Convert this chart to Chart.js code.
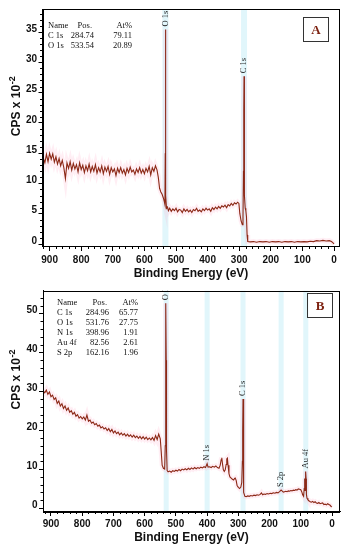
<!DOCTYPE html>
<html><head><meta charset="utf-8">
<script src="https://cdn.jsdelivr.net/npm/chart.js@4.4.1/dist/chart.umd.min.js"></script>
<style>
html,body{margin:0;padding:0;background:#fff;}
#wrap{position:relative;width:347px;height:550px;overflow:hidden;}
canvas{position:absolute;left:0;}
</style></head><body>
<div id="wrap">
<canvas id="cA" width="347" height="283" style="top:0px"></canvas>
<canvas id="cB" width="347" height="267" style="top:283px"></canvas>
</div>
<script>
// ---------- Panel A data (binding energy in eV, counts in CPS x 10^-2) ----------
const energyA = [
  920,915,910,905,900,895,890,885,880,875,
  870,865,860,855,850,845,840,835,830,825,
  820,815,810,805,800,795,790,785,780,775,
  770,765,760,755,750,745,740,735,730,725,
  720,715,710,705,700,695,690,685,680,675,
  670,665,660,655,650,645,640,635,630,625,
  620,615,610,605,600,595,590,585,580,575,
  570,565,560,556,552,548,544,540,537,535,
  534,533.5,533,532,530,527,524,520,515,510,
  505,500,495,490,485,480,475,470,465,460,
  455,450,445,440,435,430,425,420,415,410,
  405,400,395,390,385,380,375,370,365,360,
  355,350,345,340,335,330,325,320,315,310,
  305,301,298,294,290,288,286.5,285.5,284.7,284,
  283,281,279,277,275,273,265,255,245,235,
  225,215,205,195,185,175,165,155,145,135,
  125,115,105,95,85,75,65,55,45,35,
  25,15,8,3,0
];
const countsA = [
  14.2,13.4,14.8,13.6,15.0,14.0,14.9,13.5,14.4,13.2,
  14.1,12.9,13.8,12.6,10.8,13.4,12.5,13.6,12.2,13.3,
  12.4,13.1,11.9,13.4,12.3,13.0,11.8,12.9,12.1,13.2,
  11.9,12.8,12.0,13.1,11.7,12.6,11.9,12.9,11.6,12.7,
  12.0,12.8,11.5,12.6,11.9,12.4,11.3,12.5,11.8,12.6,
  11.7,12.3,11.4,12.5,11.8,12.7,11.9,12.2,11.5,12.4,
  11.8,12.6,11.7,12.3,11.6,12.5,11.9,12.8,11.4,12.6,
  12.0,12.9,12.2,11.0,9.2,8.6,8.2,7.6,7.0,6.5,
  15.0,35.4,20.0,8.0,5.9,6.1,5.5,5.9,5.4,5.8,
  5.5,5.9,5.3,5.7,5.6,5.2,5.8,5.4,5.7,5.3,
  5.6,5.2,5.7,5.5,5.9,5.4,5.6,5.3,5.8,5.5,
  5.9,5.6,5.8,5.4,6.0,5.7,6.1,5.8,6.2,5.9,
  6.3,6.1,6.4,6.0,6.5,6.3,6.7,6.4,6.8,6.6,
  6.9,6.7,5.0,3.8,3.2,4.5,12.0,22.0,27.7,18.0,
  8.0,5.9,5.5,4.5,1.5,0.4,0.35,0.4,0.3,0.4,
  0.35,0.4,0.3,0.4,0.35,0.4,0.3,0.4,0.35,0.4,
  0.3,0.4,0.35,0.4,0.35,0.45,0.4,0.55,0.5,0.6,
  0.5,0.55,0.4,0.2,0.0
];
// ---------- Panel B data ----------
const energyB = [
  925,920,915,910,905,900,895,890,885,880,
  875,870,865,860,855,850,845,840,835,830,
  825,820,815,810,805,800,795,790,785,780,
  775,770,765,760,755,750,745,740,735,730,
  725,720,715,710,705,700,695,690,685,680,
  675,670,665,660,655,650,645,640,635,630,
  625,620,615,610,605,600,595,590,585,580,
  575,570,565,560,555,550,547,544,540,536,
  534,533,532,531,530,528,525,520,515,510,
  505,500,495,490,485,480,475,470,465,460,
  455,450,445,440,435,430,425,420,415,410,
  405,400,397,392,387,382,377,372,367,362,
  358,355,353,351,348,345,342,339,337,335,
  333,330,327,323,319,315,312,310,307,304,
  300,296,292,289,287,286,285,284,283,282,
  279,275,270,265,260,255,250,245,240,235,
  230,226,222,218,213,208,203,198,193,188,
  183,178,173,168,163,160,156,152,148,144,
  140,136,132,128,124,120,116,112,108,104,
  100,97,94,91,89,88,87,86,85,84,
  83,82,80,77,74,70,66,62,58,54,
  50,46,42,38,34,30,26,22,18,14,
  10,6,3,0
];
const countsB = [
  30.1,29.6,30.3,29.2,29.8,28.6,29.0,27.9,28.3,26.9,
  27.5,26.2,26.8,25.6,26.2,25.1,25.7,24.6,25.0,24.1,
  24.6,23.6,24.0,23.1,23.5,22.9,23.4,22.6,23.9,22.3,
  22.6,21.8,22.1,21.4,21.7,21.0,21.3,20.6,20.9,20.3,
  20.6,19.9,20.4,19.6,20.2,19.3,19.8,19.1,19.5,18.8,
  19.3,18.7,19.1,18.5,19.0,18.4,18.8,18.2,18.7,18.1,
  18.5,17.9,18.4,17.8,18.3,17.7,18.2,17.6,18.0,17.5,
  18.1,17.4,18.6,17.6,19.0,17.8,14.5,11.0,10.2,10.0,
  16.0,35.0,52.6,38.0,15.0,9.6,9.3,9.5,9.2,9.6,
  9.4,9.7,9.5,9.9,9.6,10.0,9.8,10.1,9.8,10.2,
  9.9,10.3,10.0,10.4,10.1,10.4,10.2,10.5,10.3,10.6,
  10.4,11.4,10.5,10.6,10.4,10.7,10.5,10.8,10.4,10.2,
  11.0,12.4,12.9,11.5,9.8,9.4,9.8,11.2,12.6,12.8,
  11.0,8.8,8.0,7.7,7.4,7.2,7.6,7.7,7.1,5.8,
  5.3,5.0,5.4,6.6,12.0,20.0,28.0,20.0,9.0,4.0,
  3.0,2.9,3.1,3.0,3.2,3.1,3.3,3.2,3.4,3.3,
  3.5,3.9,3.4,3.6,3.5,3.7,3.6,3.8,3.7,3.9,
  3.8,4.0,3.9,4.2,4.6,4.4,4.1,4.2,4.3,4.2,
  4.4,4.3,4.5,4.4,4.6,4.5,4.7,4.6,4.9,4.8,
  4.7,4.2,3.4,3.0,5.0,7.6,6.5,4.5,6.5,9.4,
  7.5,3.5,2.5,2.1,1.9,1.6,1.5,1.7,1.4,1.6,
  1.3,1.2,1.4,1.1,1.2,1.3,0.9,1.0,0.8,1.1,
  0.9,0.7,0.4,0.3
];
// ---------- ticks ----------
const xTickLabels = [900,800,700,600,500,400,300,200,100,0];
const yTicksA = [0,5,10,15,20,25,30,35];
const yTicksB = [0,10,20,30,40,50];
// ---------- peak annotations ----------
const peakNamesA = ['O 1s','C 1s'];
const peakEnergiesA = [533.5, 284.7];
const peakNamesB = ['O 1s','N 1s','C 1s','S 2p','Au 4f'];
const peakEnergiesB = [532, 400, 285, 163, 84];
// ---------- quantification tables ----------
const tableHeader = ['Name','Pos.','At%'];
const tableNamesA = ['C 1s','O 1s'];
const tablePosA = ['284.74','533.54'];
const tableAtA = ['79.11','20.89'];
const tableNamesB = ['C 1s','O 1s','N 1s','Au 4f','S 2p'];
const tablePosB = ['284.96','531.76','398.96','82.56','162.16'];
const tableAtB = ['65.77','27.75','1.91','2.61','1.96'];
const yTitleMain = 'CPS x 10';
const yTitleSup = '-2';

const SANS = '"Liberation Sans", Arial, sans-serif';
const SERIF = '"Liberation Serif", "Times New Roman", serif';

const decoPlugin = {
  id: 'deco',
  afterDatasetsDraw(chart, args, o) {
    const {ctx, chartArea: a} = chart;
    const x = chart.scales.x, y = chart.scales.y;
    ctx.save();
    // peak labels (clipped to plot)
    ctx.save();
    ctx.beginPath(); ctx.rect(a.left, a.top, a.right - a.left, a.bottom - a.top); ctx.clip();
    ctx.font = '8.5px ' + SERIF;
    ctx.fillStyle = '#2a2a2a';
    o.peakNames.forEach((name, i) => {
      const e = o.peakEnergies[i];
      let m = -1;
      o.energy.forEach((v, j) => { if (Math.abs(v - e) <= 3 && o.counts[j] > m) m = o.counts[j]; });
      const px = x.getPixelForValue(e), py = y.getPixelForValue(m) - 3;
      ctx.save(); ctx.translate(px, py); ctx.rotate(-Math.PI / 2);
      ctx.textAlign = 'left'; ctx.textBaseline = 'middle';
      ctx.fillText(name, 0, 0);
      ctx.restore();
    });
    ctx.restore();
    // frame
    ctx.strokeStyle = '#000'; ctx.lineWidth = 1;
    ctx.strokeRect(Math.round(a.left) + 0.5, Math.round(a.top) + 0.5, Math.round(a.right - a.left) - 1, Math.round(a.bottom - a.top));
    // minor ticks
    ctx.beginPath();
    for (let v = 0; v <= o.xMax; v += 20) {
      if (v % 100 === 0) continue;
      const px = Math.round(x.getPixelForValue(v)) + 0.5;
      ctx.moveTo(px, a.bottom); ctx.lineTo(px, a.bottom + 3);
    }
    for (let v = 0; v <= o.yMax; v += o.yMinor) {
      if (v % o.yMajor === 0) continue;
      const py = Math.round(y.getPixelForValue(v)) + 0.5;
      ctx.moveTo(a.left, py); ctx.lineTo(a.left - 2.5, py);
    }
    ctx.stroke();
    // y-axis title with superscript
    ctx.save();
    ctx.translate(17, (a.top + a.bottom) / 2 - 21);
    ctx.rotate(-Math.PI / 2);
    ctx.fillStyle = '#111';
    ctx.textBaseline = 'middle'; ctx.textAlign = 'left';
    ctx.font = 'bold 12px ' + SANS;
    const w1 = ctx.measureText(yTitleMain).width;
    ctx.font = 'bold 9px ' + SANS;
    const w2 = ctx.measureText(yTitleSup).width;
    const sx = -(w1 + w2) / 2;
    ctx.font = 'bold 12px ' + SANS;
    ctx.fillText(yTitleMain, sx, 0);
    ctx.font = 'bold 9px ' + SANS;
    ctx.fillText(yTitleSup, sx + w1 + 0.5, -4.5);
    ctx.restore();
    // table
    ctx.fillStyle = '#111';
    ctx.font = '8.5px ' + SERIF;
    ctx.textBaseline = 'middle';
    const t = o.table;
    ctx.textAlign = 'left'; ctx.fillText(tableHeader[0], t.x0, t.y0);
    ctx.textAlign = 'right'; ctx.fillText(tableHeader[1], t.x1 - 2, t.y0);
    ctx.fillText(tableHeader[2], t.x2, t.y0);
    t.names.forEach((n, i) => {
      const yy = t.y0 + t.dy * (i + 1);
      ctx.textAlign = 'left'; ctx.fillText(n, t.x0, yy);
      ctx.textAlign = 'right'; ctx.fillText(t.pos[i], t.x1, yy);
      ctx.fillText(t.at[i], t.x2, yy);
    });
    // letter box
    const b = o.box;
    ctx.strokeStyle = '#333';
    ctx.strokeRect(b.x + 0.5, b.y + 0.5, b.w, b.h);
    ctx.fillStyle = '#7e2312';
    ctx.font = 'bold 13px ' + SERIF;
    ctx.textAlign = 'center'; ctx.textBaseline = 'middle';
    ctx.fillText(b.letter, b.x + b.w / 2 + 0.5, b.y + b.h / 2 + 1.5);
    ctx.restore();
  }
};

function makeChart(id, cfg) {
  const pts = cfg.energy.map((e, i) => ({x: e, y: cfg.counts[i]}));
  const bands = cfg.bands.map(e => ({
    data: [{x: e, y: cfg.yMin}, {x: e, y: cfg.yMax}],
    showLine: true, pointRadius: 0, borderColor: 'rgba(212,242,250,0.7)', borderWidth: cfg.bandWidth
  }));
  return new Chart(document.getElementById(id), {
    type: 'scatter',
    data: {
      datasets: [
        {data: pts, showLine: true, pointRadius: 0, borderColor: '#8c2816', borderWidth: 1.1, tension: 0},
        {data: pts, showLine: true, pointRadius: 0, borderColor: 'rgba(255,170,200,0.2)', borderWidth: 5, tension: 0},
        ...bands
      ]
    },
    options: {
      responsive: false, animation: false, events: [],
      layout: {padding: cfg.padding},
      plugins: {
        legend: {display: false}, tooltip: {enabled: false},
        deco: {
          peakNames: cfg.peakNames, peakEnergies: cfg.peakEnergies, energy: cfg.energy, counts: cfg.counts,
          xMax: 920, yMax: cfg.yMax, yMinor: cfg.yMinor, yMajor: cfg.yMajor,
          table: cfg.table, box: cfg.box
        }
      },
      scales: {
        x: {
          type: 'linear', reverse: true, min: cfg.xMin, max: cfg.xMax,
          afterBuildTicks: s => { s.ticks = xTickLabels.map(v => ({value: v})); },
          afterFit: s => { s.height = cfg.xHeight; },
          grid: {display: true, drawOnChartArea: false, drawTicks: true, tickLength: 5, color: '#000', tickColor: '#000'},
          border: {display: true, color: '#000'},
          ticks: {font: {family: SANS, size: 10, weight: 'bold'}, color: '#111', padding: cfg.xTickPad, maxRotation: 0, autoSkip: false},
          title: {display: true, text: 'Binding Energy (eV)', color: '#111',
                  font: {family: SANS, size: 12, weight: 'bold'}, padding: {top: 0, bottom: cfg.xTitlePad}}
        },
        y: {
          min: cfg.yMin, max: cfg.yMax,
          afterBuildTicks: s => { s.ticks = cfg.yTicks.map(v => ({value: v})); },
          afterFit: s => { s.width = cfg.yWidth; },
          grid: {display: true, drawOnChartArea: false, drawTicks: true, tickLength: 4, color: '#000', tickColor: '#000'},
          border: {display: true, color: '#000'},
          ticks: {font: {family: SANS, size: 10, weight: 'bold'}, color: '#111', padding: 1.5, labelOffset: -3},
          title: {display: false}
        }
      }
    },
    plugins: [decoPlugin]
  });
}

makeChart('cA', {
  energy: energyA, counts: countsA, bands: [533.5, 284.7], bandWidth: 6,
  padding: {top: 9, right: 7.5, left: 0, bottom: 0},
  xMin: -17.4, xMax: 922.5, xHeight: 37, xTickPad: 3, xTitlePad: 2.5,
  yMin: -0.33, yMax: 38.8, yTicks: yTicksA, yMinor: 1, yMajor: 5, yWidth: 42.5,
  peakNames: peakNamesA, peakEnergies: peakEnergiesA,
  table: {x0: 48, x1: 94, x2: 132, y0: 26, dy: 10, names: tableNamesA, pos: tablePosA, at: tableAtA},
  box: {x: 303, y: 17, w: 25, h: 24, letter: 'A'}
});
makeChart('cB', {
  energy: energyB, counts: countsB, bands: [531, 400, 285, 163, 84], bandWidth: 5,
  padding: {top: 6, right: 7, left: 0, bottom: 0},
  xMin: -25.6, xMax: 925.6, xHeight: 39, xTickPad: 2, xTitlePad: 5,
  yMin: -0.77, yMax: 55.9, yTicks: yTicksB, yMinor: 2, yMajor: 10, yWidth: 43,
  peakNames: peakNamesB, peakEnergies: peakEnergiesB,
  table: {x0: 57, x1: 109, x2: 138, y0: 20, dy: 10, names: tableNamesB, pos: tablePosB, at: tableAtB},
  box: {x: 307, y: 10, w: 25, h: 24, letter: 'B'}
});
</script>
</body></html>
